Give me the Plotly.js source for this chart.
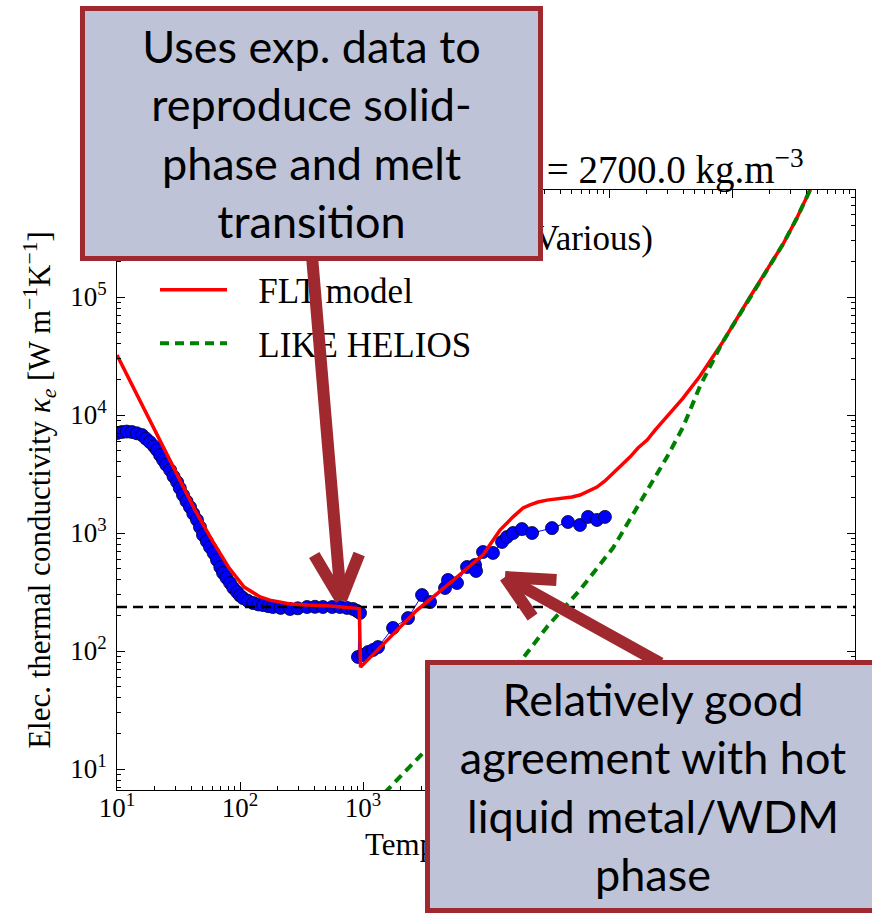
<!DOCTYPE html>
<html><head><meta charset="utf-8">
<script src="https://cdn.plot.ly/plotly-3.0.1.min.js"></script>
<style>html,body{margin:0;padding:0;background:#fff}</style>
</head><body><div id="chart" style="width:872px;height:915px"></div>
<script>
// ---- data ----
const expT = [10, 11, 12, 13.2, 14.5, 16, 17.2, 18.5, 20, 21.1, 22.4, 23.7, 25.1, 27, 28.8, 30.8, 32.4, 34.4, 36.7, 39.2, 41.7, 44.7, 47.3, 50, 53.7, 57, 61, 65, 69.2, 72.8, 77.6, 83, 88.1, 94.6, 100, 106, 116, 128, 141, 154, 170, 185, 214, 255, 295, 351, 407, 473, 562, 650, 741, 830, 891, 946,
  910, 1000, 1100, 1206, 1325, 1754, 2323, 3020, 3508, 4645, 4910, 5810, 7010, 8150, 8300, 9460, 11400, 13500, 14800, 16600, 19600, 23700, 34400, 46400, 58100, 67500, 79800, 92700];
const expK = [7030, 7180, 7240, 7180, 7000, 6760, 6310, 5900, 5430, 5050, 4570, 4160, 3800, 3420, 3020, 2700, 2400, 2100, 1860, 1660, 1460, 1290, 1120, 962, 851, 760, 676, 590, 513, 458, 417, 377, 343, 316, 295, 281, 266, 255, 248, 245, 240, 236, 232, 227, 230, 236, 237, 236, 236, 236, 232, 227, 219, 210,
  89, 92.5, 98, 102, 108, 157, 190, 298, 260, 342, 400, 377, 515, 536, 477, 690, 678, 840, 925, 1000, 1080, 1000, 1100, 1240, 1170, 1370, 1290, 1370];

const fltT = [10, 16.8, 23.2, 31.8, 43, 59, 80.5, 108, 146, 175, 255, 351, 540, 830, 933, 955, 2750, 5090, 9460, 10800, 13000, 16600, 20000, 22800, 26500, 31300, 36400, 42300, 50000, 58100, 67500, 79800, 92700, 108000, 128000, 148000, 172000, 204000, 237000, 270000, 296000, 400000, 550000, 755000, 830000, 1400000, 2600000, 3370000, 4300000, 5000000];
const fltK = [32200, 11000, 5790, 2990, 1570, 873, 515, 348, 287, 270, 250, 245, 241, 231, 228, 73, 222, 377, 652, 800, 1060, 1370, 1630, 1730, 1830, 1900, 1940, 1980, 2020, 2100, 2270, 2450, 2760, 3220, 3770, 4400, 5250, 6140, 7460, 8730, 9620, 13900, 21400, 34800, 40700, 100000, 281000, 467000, 807000, 1120000];

const heliosT = [1500, 1660, 3080, 5000, 8000, 13000, 20000, 31300, 58000, 108000, 204000, 296000, 400000, 550000, 830000, 1400000, 2600000, 3370000, 4300000, 5000000];
const heliosK = [6.3, 7.0, 13.7, 22, 35, 57, 87, 160, 329, 750, 2310, 4400, 7900, 17600, 40700, 100000, 281000, 467000, 807000, 1120000];

const refT = [10, 1e7];
const refK = [236, 236];

const seriesNames = ['Experimental data (Various)', 'FLT model', 'LIKE HELIOS'];
const xTickVals = [1e1, 1e2, 1e3, 1e4, 1e5, 1e6, 1e7];
const xTickText = ['10<sup>1</sup>', '10<sup>2</sup>', '10<sup>3</sup>', '10<sup>4</sup>', '10<sup>5</sup>', '10<sup>6</sup>', '10<sup>7</sup>'];
const yTickVals = [1e1, 1e2, 1e3, 1e4, 1e5];
const yTickText = ['10<sup>1</sup>', '10<sup>2</sup>', '10<sup>3</sup>', '10<sup>4</sup>', '10<sup>5</sup>'];

const titleText = 'Al, <i>ρ</i>\u00A0\u00A0= 2700.0 kg.m<sup>−3</sup>';
const xTitleText = 'Temperature <i>T</i> [K]';
const yTitleText = 'Elec. thermal conductivity <i>κ</i><sub><i>e</i></sub> [W m<sup>−1</sup>K<sup>−1</sup>]';
const box1Text = 'Uses exp. data to<br>reproduce solid-<br>phase and melt<br>transition';
const box2Text = 'Relatively good<br>agreement with hot<br>liquid metal/WDM<br>phase';

// ---- geometry helpers ----
const W = 872, H = 915, ML = 117, MR = 17, MT = 190, MB = 125;
const PW = W - ML - MR, PH = H - MT - MB;
const px = x => (x - ML) / PW;
const py = y => (H - MB - y) / PH;

function minorVals(d0, d1) {
  const v = [];
  for (let d = d0; d < d1; d++) for (let m = 2; m <= 9; m++) v.push(m * Math.pow(10, d));
  return v;
}
const pad = s => '\u00A0\u00A0\u00A0' + s;

const serif = 'Liberation Serif, Times New Roman, serif';
const sans = 'Lato, Open Sans, sans-serif';
const boxFill = '#BEC3D7';
const boxLine = '#A0292F';

const traces = [
  { x: expT, y: expK, name: pad(seriesNames[0]), legendgroup: 'g1', type: 'scatter', mode: 'lines+markers',
    line: { color: '#0000FF', width: 1 },
    marker: { color: '#0000FF', size: 13, line: { color: '#000022', width: 0.8 } } },
  { x: refT, y: refK, type: 'scatter', mode: 'lines', showlegend: false, hoverinfo: 'skip',
    line: { color: '#000000', width: 2.5, dash: '10px,6px' } },
  { x: fltT, y: fltK, name: pad(seriesNames[1]), legendgroup: 'g2', type: 'scatter', mode: 'lines',
    line: { color: '#FF0000', width: 3.5 } },
  { x: heliosT, y: heliosK, name: pad(seriesNames[2]), legendgroup: 'g3', type: 'scatter', mode: 'lines',
    line: { color: '#008000', width: 4, dash: '9px,6px' } }
];

const axisCommon = {
  type: 'log', showgrid: false, zeroline: false,
  showline: true, linecolor: '#000', linewidth: 1, mirror: 'allticks',
  ticks: 'inside', ticklen: 8, tickwidth: 1, tickcolor: '#000',
  tickfont: { family: serif, size: 27, color: '#000' }
};

function arrow(tipX, tipY, tailX, tailY) {
  return { xref: 'paper', yref: 'paper', x: px(tipX), y: py(tipY),
    ax: tailX - tipX, ay: tailY - tipY, showarrow: true, arrowhead: 0,
    arrowwidth: 12, arrowcolor: boxLine, standoff: 0, startstandoff: 0,
    text: ' ', font: { size: 1 } };
}

const annotations = [
  { xref: 'paper', yref: 'paper', x: px(806), y: py(167), xanchor: 'right', yanchor: 'middle',
    text: titleText, showarrow: false, font: { family: serif, size: 39, color: '#000' } },
  { xref: 'paper', yref: 'paper', x: px(363), y: py(845), xanchor: 'left', yanchor: 'middle',
    text: xTitleText, showarrow: false, font: { family: serif, size: 31, color: '#000' } },
  // arrow 1 (down to melt transition)
  arrow(341, 600, 312, 256),
  arrow(341, 600, 313, 553),
  arrow(341, 600, 360, 552),
  // arrow 2 (to hot liquid region)
  arrow(505, 577, 662, 664),
  arrow(505, 577, 558, 580),
  arrow(505, 577, 534, 619),
  // boxes
  { xref: 'paper', yref: 'paper', x: px(80), y: py(6), xanchor: 'left', yanchor: 'top',
    width: 453, height: 245, bgcolor: boxFill, bordercolor: boxLine, borderwidth: 5, borderpad: 0,
    text: box1Text, showarrow: false, align: 'center', valign: 'middle',
    font: { family: sans, size: 45, color: '#000' } },
  { xref: 'paper', yref: 'paper', x: px(425), y: py(660), xanchor: 'left', yanchor: 'top',
    width: 446, height: 243, bgcolor: boxFill, bordercolor: boxLine, borderwidth: 5, borderpad: 0,
    text: box2Text, showarrow: false, align: 'center', valign: 'middle',
    font: { family: sans, size: 45, color: '#000' } }
];

const layout = {
  width: W, height: H,
  margin: { l: ML, r: MR, t: MT, b: MB, pad: 0 },
  paper_bgcolor: '#fff', plot_bgcolor: '#fff',
  showlegend: true,
  legend: { x: px(155), y: py(207), xanchor: 'left', yanchor: 'top',
    bgcolor: 'rgba(0,0,0,0)', borderwidth: 0, itemwidth: 67, tracegroupgap: 5,
    font: { family: serif, size: 35, color: '#000' } },
  xaxis: Object.assign({}, axisCommon, {
    range: [1, 7], tickmode: 'array', tickvals: xTickVals, ticktext: xTickText,
    ticklabelstandoff: -6,
    minor: { tickmode: 'array', tickvals: minorVals(1, 7), ticks: 'inside', ticklen: 4, tickwidth: 1, tickcolor: '#000', showgrid: false }
  }),
  yaxis: Object.assign({}, axisCommon, {
    range: [0.822, 5.907], tickmode: 'array', tickvals: yTickVals, ticktext: yTickText,
    ticklabelstandoff: 4,
    minor: { tickmode: 'array', tickvals: minorVals(0, 6), ticks: 'inside', ticklen: 4, tickwidth: 1, tickcolor: '#000', showgrid: false },
    title: { text: yTitleText, standoff: 10, font: { family: serif, size: 31, color: '#000' } }
  }),
  annotations: annotations
};

Plotly.newPlot('chart', traces, layout, { displayModeBar: false, staticPlot: true });
</script></body></html>
